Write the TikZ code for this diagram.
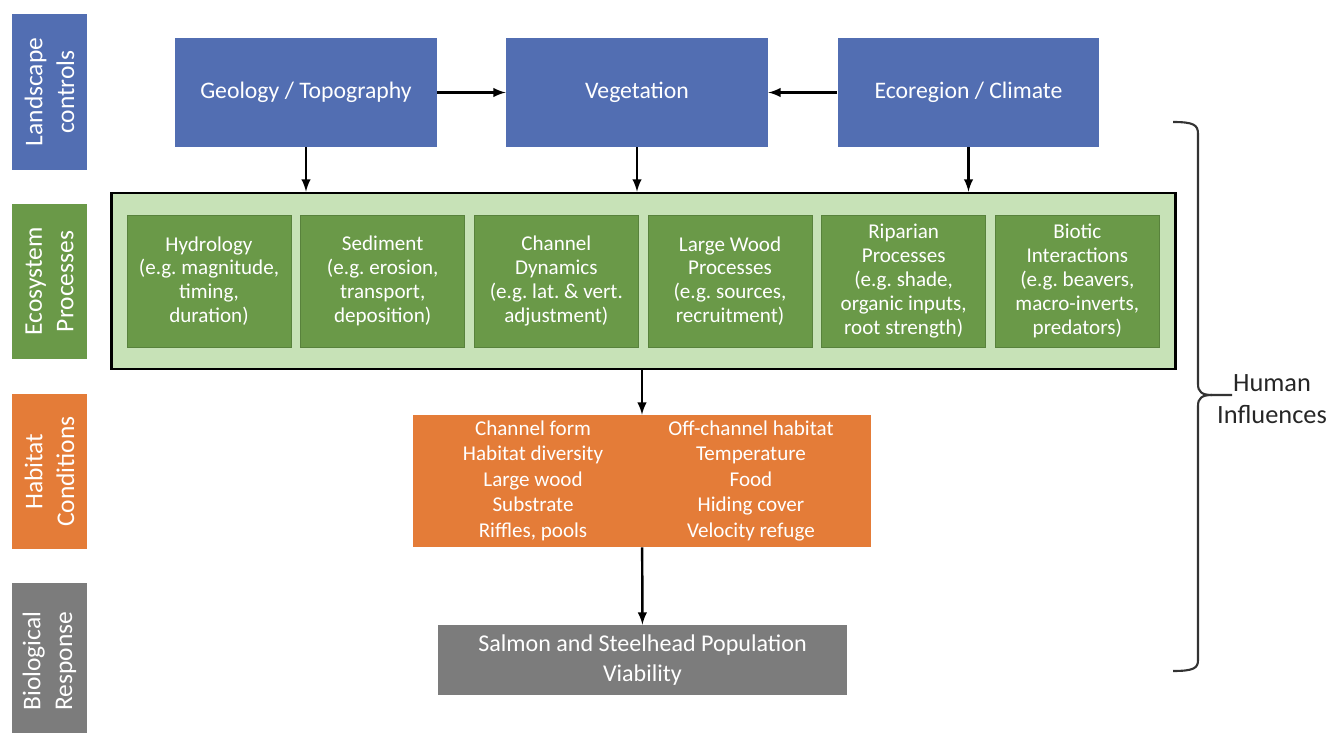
\documentclass[tikz,border=0pt]{standalone}
\usepackage{fontspec}
\setmainfont{Carlito}
\usepackage{array}
\usetikzlibrary{arrows,positioning,calc}
\frenchspacing

\definecolor{ctrlblue}{RGB}{82,110,178}
\definecolor{procgreen}{RGB}{106,153,72}
\definecolor{procedge}{RGB}{88,130,60}
\definecolor{framegreen}{RGB}{199,226,183}
\definecolor{haborange}{RGB}{228,124,56}
\definecolor{biogray}{RGB}{124,124,124}

\tikzset{
  band/.style={rotate=90, minimum width=3.12cm, minimum height=1.5cm, inner sep=0pt,
    text=white, align=center, font=\fontsize{14.5}{18}\selectfont},
  driver/.style={fill=ctrlblue, minimum width=5.24cm, minimum height=2.18cm,
    text=white, font=\fontsize{13.5}{16}\selectfont},
  frame/.style={draw=black, line width=1.6pt, fill=framegreen,
    minimum width=21.3cm, minimum height=3.52cm},
  proc/.style={fill=procgreen, draw=procedge, line width=0.4pt,
    minimum width=3.28cm, minimum height=2.64cm, inner sep=2pt, align=center,
    text=white, font=\fontsize{12}{13.6}\selectfont},
  hab/.style={fill=haborange, minimum width=9.16cm, minimum height=2.64cm, inner sep=0pt,
    text=white, font=\fontsize{12}{14.5}\selectfont},
  bio/.style={fill=biogray, minimum width=8.18cm, minimum height=1.4cm, align=center,
    text=white, font=\fontsize{13.7}{17}\selectfont},
  flow/.style={line width=1.4pt, -latex},
}

\begin{document}
\begin{tikzpicture}[x=0.02cm, y=-0.02cm, node distance=0.18cm]
\useasboundingbox (0,0) rectangle (1333,733);

% Side bands
\node[band, fill=ctrlblue] (lc) at (49.5,92) {Landscape\\controls};
\node[band, fill=procgreen] (ep) at (49.5,281.5) {Ecosystem\\Processes};
\node[band, fill=haborange] (hc) at (49.5,471.5) {Habitat\\Conditions};
\node[band, fill=biogray] (br) at (49.5,661) {Biological\\Response};

% Landscape controls
\node[driver] (geo) at (306,92.5) {Geology / Topography};
\node[driver] (veg) at (637,92.5) {Vegetation};
\node[driver] (eco) at (968.5,92.5) {Ecoregion / Climate};

% Ecosystem processes
\node[frame] (procs) at (643.5,281) {};
\node[proc] (hyd) at (209,281) {Hydrology\\(e.g. magnitude,\\timing,\\duration)};
\node[proc, right=of hyd] (sed) {Sediment\\(e.g. erosion,\\transport,\\deposition)};
\node[proc, right=of sed] (chan) {Channel\\Dynamics\\(e.g. lat. \& vert.\\adjustment)};
\node[proc, right=of chan] (wood) {Large Wood\\Processes\\(e.g. sources,\\recruitment)};
\node[proc, right=of wood] (rip) {Riparian\\Processes\\(e.g. shade,\\organic inputs,\\root strength)};
\node[proc, right=of rip] (biot) {Biotic\\Interactions\\(e.g. beavers,\\macro-inverts,\\predators)};

% Habitat conditions
\node[hab] (hab) at (642,481) {\begin{tabular}{@{}>{\centering\arraybackslash}p{4.36cm}@{}>{\centering\arraybackslash}p{4.36cm}@{}}
Channel form & Off-channel habitat\\
Habitat diversity & Temperature\\
Large wood & Food\\
Substrate & Hiding cover\\
Riffles, pools & Velocity refuge
\end{tabular}};

% Biological response
\node[bio] (sal) at (642.5,660) {Salmon and Steelhead Population\\Viability};

% Arrows
\draw[flow] (geo) -- (veg);
\draw[flow] (eco) -- (veg);
\draw[flow] (geo.south) -- (geo.south |- procs.north);
\draw[flow] (veg.south) -- (veg.south |- procs.north);
\draw[flow] (eco.south) -- (eco.south |- procs.north);
\draw[flow] (hab.north |- procs.south) -- (hab.north);
\draw[flow] (hab) -- (sal);

% Human influences
\coordinate (brtop) at (1173,122);
\coordinate (brbot) at (1173,671);
\coordinate (brtip) at (1232,395);
\draw[line width=1.2pt, black!80] (brtop) .. controls (1194,122) and (1198,125) .. (1198,134)
  -- (1198,384) .. controls (1198,392) and (1202,395) .. (1212,395) -- (brtip);
\draw[line width=1.2pt, black!80] (1212,395) .. controls (1202,395) and (1198,398) .. (1198,406)
  -- (1198,660) .. controls (1198,668) and (1194,671) .. (brbot);
\node[align=center, text=black!85, font=\fontsize{15}{18}\selectfont] (hum) at (1272,399) {Human\\Influences};

\end{tikzpicture}
\end{document}
